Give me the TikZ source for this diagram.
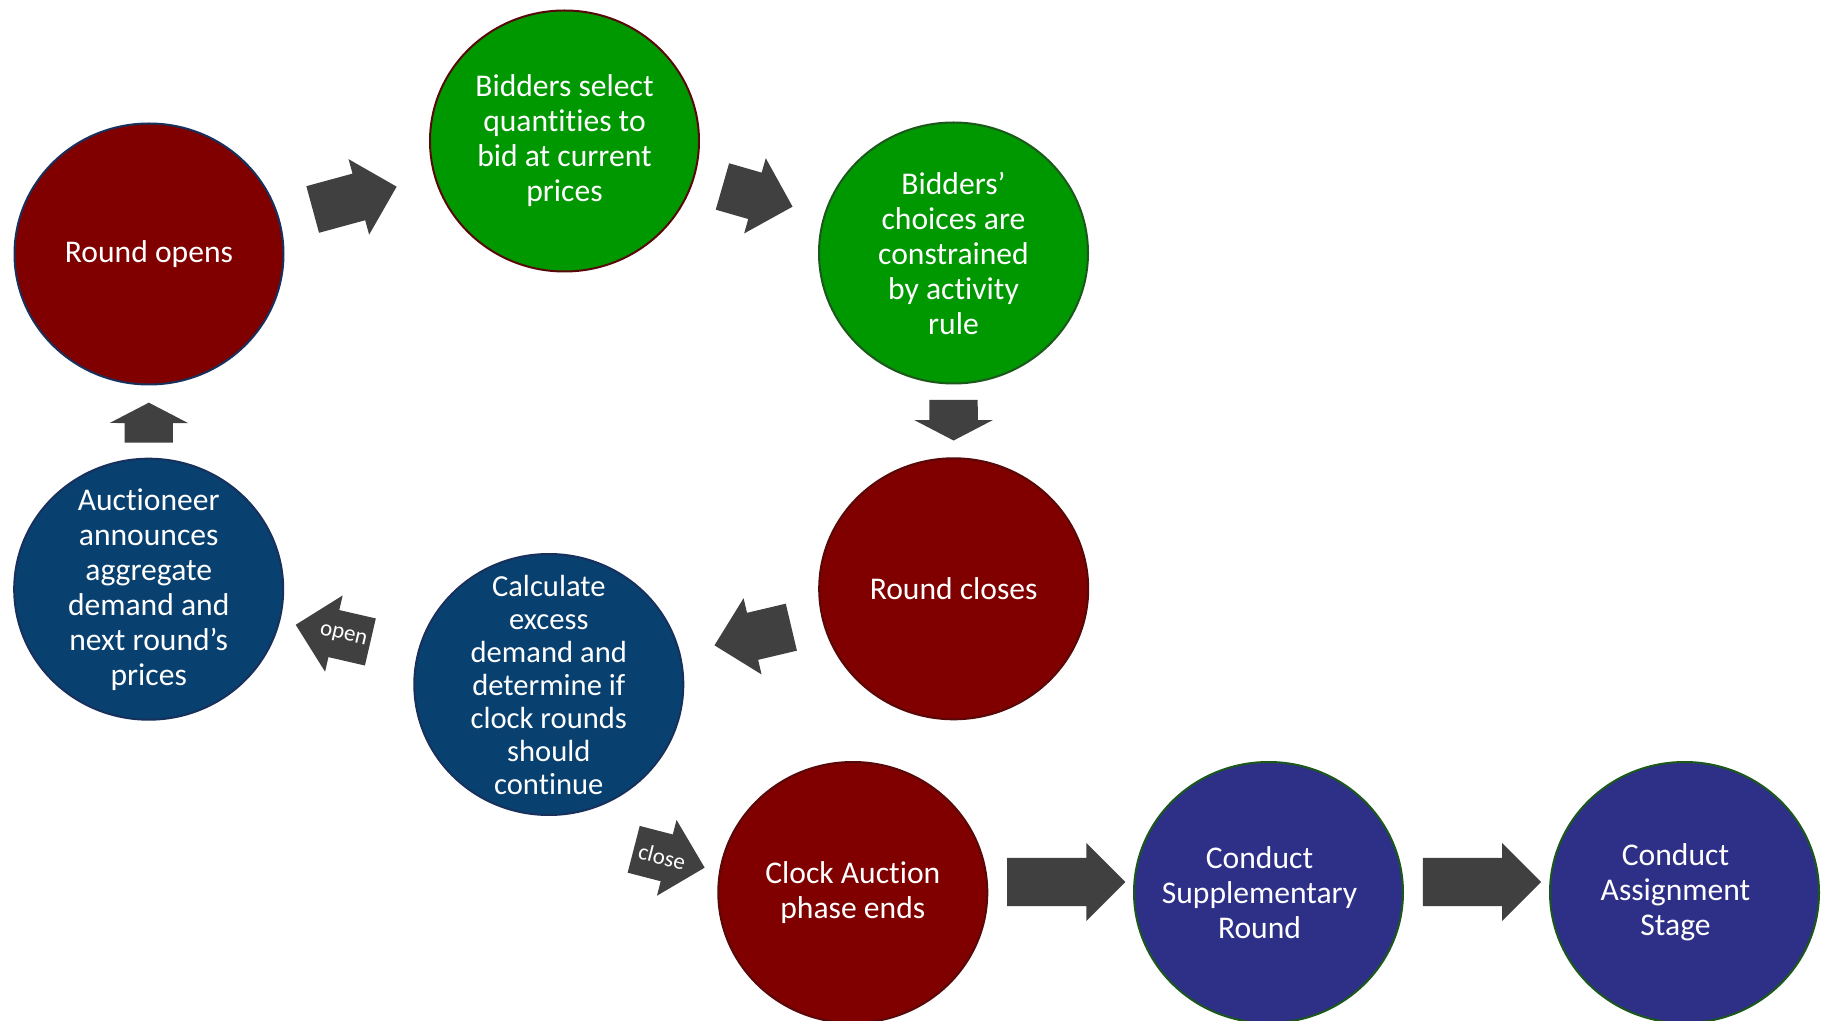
\documentclass[tikz,border=0pt]{standalone}
\usepackage{fontspec}
\setmainfont{Carlito}[Ligatures=NoCommon]
\usetikzlibrary{shapes.geometric,shapes.arrows,calc}

\definecolor{auctred}{RGB}{128,0,0}
\definecolor{redline}{RGB}{88,8,8}
\definecolor{auctgreen}{RGB}{0,152,0}
\definecolor{greenline}{RGB}{28,88,28}
\definecolor{auctnavy}{RGB}{8,64,112}
\definecolor{navyline}{RGB}{24,48,92}
\definecolor{auctindigo}{RGB}{46,48,136}
\definecolor{arrowgray}{RGB}{64,64,64}

\begin{document}
\begin{tikzpicture}[x=0.5pt,y=-0.5pt,
    stage/.style={ellipse, minimum width=134.5pt, minimum height=130.5pt, inner sep=-15pt, line width=1pt, text=white, align=center, font=\fontsize{15.8}{17.5}\selectfont},
    redstage/.style={stage, fill=auctred, draw=redline},
    greenstage/.style={stage, fill=auctgreen, draw=#1},
    navystage/.style={stage, fill=auctnavy, draw=navyline},
    indigostage/.style={stage, fill=auctindigo, draw=greenline},
    stagetext/.style={text=white, align=center, xshift=-4.5pt, font=\fontsize{15.8}{17.5}\selectfont},
    blockarrow/.style={single arrow, fill=arrowgray, draw=none, anchor=tail, inner xsep=0pt, inner ysep=8.125pt, text height=6pt, text depth=1.5pt, minimum width=0pt, single arrow head extend=7.5pt, single arrow tip angle=90},
    flatarrow/.style={blockarrow, single arrow tip angle=125},
    arrowlabel/.style={text=white, inner sep=0pt, font=\fontsize{11.5}{12}\selectfont}]
  \useasboundingbox (0,0) rectangle (1822,1021);

  % the clock round cycle
  \node[stage, fill=auctred, draw=navyline] (opens) at (149,254) {Round opens};
  \node[greenstage=redline] (select) at (564.5,141) {Bidders select\\quantities to\\bid at current\\prices};
  \node[greenstage=greenline] (choices) at (953.5,253) {Bidders’\\choices are\\constrained\\by activity\\rule};
  \node[redstage] (closes) at (953.7,588.8) {Round closes};
  \node[navystage, font=\fontsize{15.3}{16.5}\selectfont] (calc) at (548.8,684.5) {Calculate\\excess\\demand and\\determine if\\clock rounds\\should\\continue};
  \node[navystage] (auct) at (148.7,589.2) {Auctioneer\\announces\\aggregate\\demand and\\next round’s\\prices};

  % after the clock phase
  \node[redstage] (clock) at (852.8,892.5) {Clock Auction\\phase ends};
  \node[indigostage, label={[stagetext]center:Conduct\\Supplementary\\Round}] (supp) at (1268.5,892.5) {};
  \node[indigostage, label={[stagetext]center:Conduct\\Assignment\\Stage}] (assign) at (1684.5,892.5) {};

  % arrows
  \path (opens.center) -- node[blockarrow, sloped, allow upside down, pos=0.393, minimum height=43.5pt] (toselect) {} (select.center);
  \path (select.center) -- node[blockarrow, sloped, allow upside down, pos=0.405, minimum height=36.5pt] (tochoices) {} (choices.center);
  \path (choices.center) -- node[flatarrow, sloped, allow upside down, pos=0.436, minimum height=20.35pt] (tocloses) {} (closes.center);
  \path (closes.center) -- node[blockarrow, sloped, allow upside down, pos=0.40, minimum height=39.5pt] (tocalc) {} (calc.center);
  \path (auct.center) -- node[flatarrow, sloped, allow upside down, pos=0.436, minimum height=20pt] (toopens) {} (opens.center);
  \path (clock.center) -- node[blockarrow, pos=0.370, yshift=5.25pt, minimum height=59.2pt] (tosupp) {} (supp.center);
  \path (supp.center) -- node[blockarrow, pos=0.370, yshift=5.25pt, minimum height=59.2pt] (toassign) {} (assign.center);

  \node[blockarrow, rotate=167, minimum height=38.3pt] (openarrow) at ($(calc.center)!0.445!(auct.center)$) {};
  \node[arrowlabel, rotate=-13] at ($(openarrow.tail)!0.363!(openarrow.tip)$) {open};
  \node[blockarrow, rotate=-14.5, minimum height=36.65pt] (closearrow) at (633.3,849.2) {};
  \node[arrowlabel, rotate=-14.5] at ($(closearrow.tail)!0.40!(closearrow.tip)$) {close};
\end{tikzpicture}
\end{document}
